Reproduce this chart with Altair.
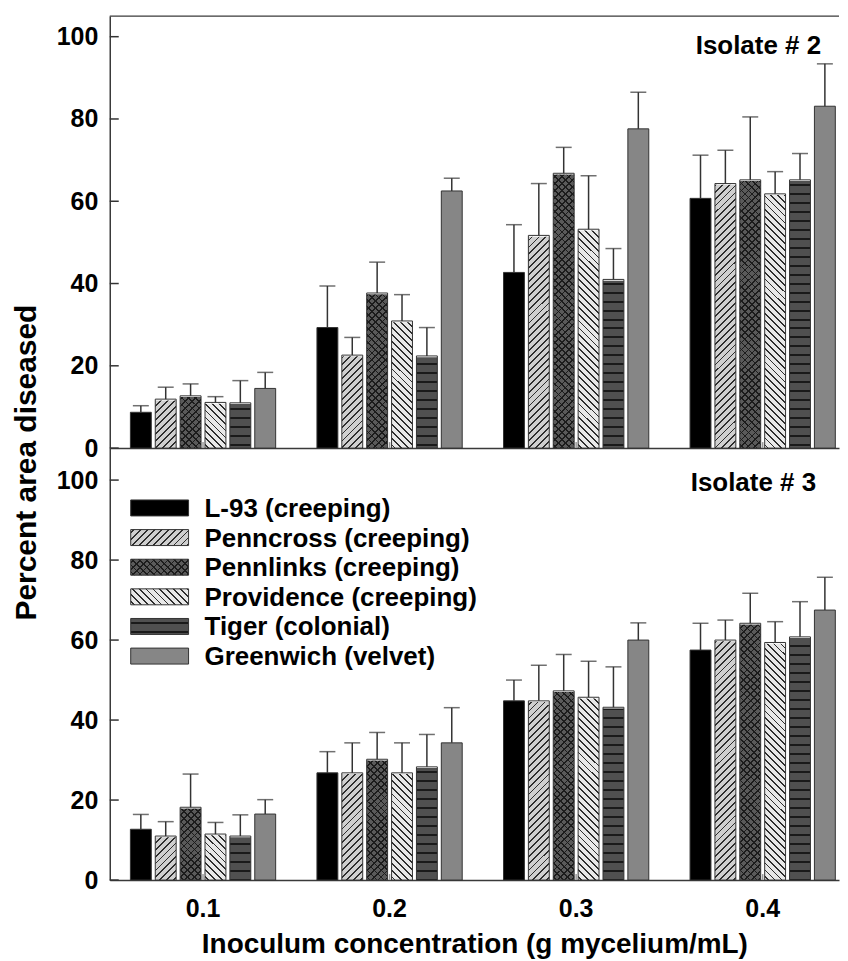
import math
import altair as alt
import pandas as pd

# ---------------- data ----------------
concentrations = ["0.1", "0.2", "0.3", "0.4"]
cultivars = [
    "L-93 (creeping)",
    "Penncross (creeping)",
    "Pennlinks (creeping)",
    "Providence (creeping)",
    "Tiger (colonial)",
    "Greenwich (velvet)",
]

# Isolate # 2 : mean percent area diseased (rows = cultivars, cols = concentrations)
iso2_mean = [
    [8.7, 29.3, 42.7, 60.7],
    [11.9, 22.6, 51.7, 64.3],
    [12.7, 37.7, 66.8, 65.2],
    [11.1, 30.9, 53.2, 61.8],
    [11.0, 22.4, 41.0, 65.2],
    [14.5, 62.5, 77.6, 83.1],
]
iso2_se = [
    [1.6, 10.1, 11.6, 10.5],
    [2.9, 4.3, 12.6, 8.1],
    [2.9, 7.5, 6.3, 15.3],
    [1.4, 6.4, 13.0, 5.4],
    [5.4, 6.9, 7.5, 6.4],
    [3.9, 3.1, 8.9, 10.3],
]

# Isolate # 3
iso3_mean = [
    [12.7, 26.8, 44.8, 57.5],
    [11.0, 26.8, 44.8, 60.0],
    [18.2, 30.2, 47.3, 64.2],
    [11.5, 26.8, 45.7, 59.4],
    [11.0, 28.3, 43.2, 60.8],
    [16.5, 34.3, 60.0, 67.5],
]
iso3_se = [
    [3.7, 5.3, 5.2, 6.7],
    [3.6, 7.5, 8.9, 5.0],
    [8.3, 6.7, 9.1, 7.5],
    [2.9, 7.5, 9.0, 5.2],
    [5.3, 8.1, 10.1, 8.8],
    [3.6, 8.8, 4.3, 8.2],
]

y_ticks = [0, 20, 40, 60, 80, 100]

# ---------------- layout / style ----------------
FONT = "Liberation Sans"
PANEL_W = 731
PANEL_H = 433
TOP_MAX = 105
BOT_MAX = 108
EDGE = "#333333"
FRAME = "#3a3a3a"
BAR_W = 20.9  # approx pixel width of one bar (for hatch geometry)


def table(means, ses):
    rows = []
    for ci, c in enumerate(cultivars):
        for gi, g in enumerate(concentrations):
            rows.append({"conc": g, "cultivar": c, "mean": means[ci][gi], "se": ses[ci][gi]})
    return pd.DataFrame(rows)


def stripes(w, h, nx, ny, pitch, lw, bg, fg):
    """Linear gradient (bbox units) that draws parallel lines of constant pixel pitch."""
    n = math.hypot(nx, ny)
    nx, ny = nx / n, ny / n
    corners = [(0.0, 0.0), (1.0, 0.0), (0.0, 1.0), (1.0, 1.0)]
    d = [nx * w * u + ny * h * v for (u, v) in corners]
    i0 = d.index(min(d))
    D = max(d) - min(d)
    Q = (nx * w) ** 2 + (ny * h) ** 2
    k = D / Q
    x1, y1 = corners[i0]
    x2 = x1 + k * nx * w
    y2 = y1 + k * ny * h
    stops = [{"offset": 0, "color": bg}]
    c = pitch / 2
    while c - lw / 2 < D:
        a = round(max(0.0, (c - lw / 2) / D), 5)
        b = round(min(1.0, (c + lw / 2) / D), 5)
        stops += [
            {"offset": a, "color": bg},
            {"offset": a, "color": fg},
            {"offset": b, "color": fg},
            {"offset": b, "color": bg},
        ]
        c += pitch
    stops.append({"offset": 1, "color": bg})
    return {"gradient": "linear", "x1": round(x1, 5), "y1": round(y1, 5),
            "x2": round(x2, 5), "y2": round(y2, 5), "stops": stops}


CLEAR = "rgba(0,0,0,0)"


def fills(w, h):
    """Fill layers for each hatched cultivar, for a box of w x h pixels."""
    return {
        cultivars[1]: [stripes(w, h, 1, 1, 4.9, 1.3, "#cfcfcf", "#2e2e2e")],
        cultivars[2]: [stripes(w, h, 1, 1, 4.9, 1.2, "#5a5a5a", "#1c1c1c"),
                       stripes(w, h, 1, -1, 4.9, 1.2, CLEAR, "#1c1c1c")],
        cultivars[3]: [stripes(w, h, 1, -1, 4.9, 1.3, "#e8e8e8", "#2e2e2e")],
        cultivars[4]: [stripes(w, h, 0, 1, 9.0, 2.0, "#505050", "#1a1a1a")],
    }


SOLID = {cultivars[0]: "#000000", cultivars[5]: "#868686"}
HATCHED = [cultivars[1], cultivars[2], cultivars[3], cultivars[4]]


def panel(means, ses, ymax, yaxis, xaxis, label, lab_x, lab_y, legend, top_line):
    df = table(means, ses)
    X = alt.X("conc:N", sort=concentrations,
              scale=alt.Scale(domain=concentrations, paddingInner=0.2,
                              paddingOuter=0.0545, align=0.917),
              axis=xaxis)
    XO = alt.XOffset("cultivar:N",
                     scale=alt.Scale(domain=cultivars, paddingInner=0.16, paddingOuter=0.08))
    ys = alt.Scale(domain=[0, ymax], nice=False)

    def Y(field):
        return alt.Y(field, scale=ys, axis=yaxis)

    base = alt.Chart(df).encode(x=X, xOffset=XO)
    hpx = 100 * PANEL_H / ymax
    layers = []
    # hatched fills (drawn to 100, then masked above each bar's value)
    for name, grads in fills(BAR_W, hpx).items():
        for g in grads:
            layers.append(
                base.transform_filter(alt.datum.cultivar == name)
                .transform_calculate(hatch_top="100")
                .mark_bar(fill=g)
                .encode(y=Y("hatch_top:Q"))
            )
    layers.append(
        base.transform_filter(alt.FieldOneOfPredicate(field="cultivar", oneOf=HATCHED))
        .transform_calculate(hatch_top="100")
        .mark_bar(fill="white", stroke="white", strokeWidth=2.5)
        .encode(y=Y("mean:Q"), y2="hatch_top:Q")
    )
    # solid bars
    layers.append(
        base.transform_filter(alt.FieldOneOfPredicate(field="cultivar", oneOf=list(SOLID)))
        .mark_bar(stroke=EDGE, strokeWidth=1)
        .encode(y=Y("mean:Q"),
                fill=alt.Fill("cultivar:N", legend=None,
                              scale=alt.Scale(domain=list(SOLID), range=list(SOLID.values()))))
    )
    # outlines of hatched bars
    layers.append(
        base.transform_filter(alt.FieldOneOfPredicate(field="cultivar", oneOf=HATCHED))
        .mark_bar(fillOpacity=0, stroke=EDGE, strokeWidth=1)
        .encode(y=Y("mean:Q"))
    )
    # error bars
    err = base.transform_calculate(upper="datum.mean + datum.se")
    layers.append(err.mark_rule(color=EDGE, strokeWidth=1.5).encode(y=Y("mean:Q"), y2="upper:Q"))
    layers.append(err.mark_tick(color=EDGE, thickness=1.5, size=16, orient="horizontal")
                  .encode(y=Y("upper:Q")))
    # inward y ticks
    layers.append(
        alt.Chart(pd.DataFrame({"t": y_ticks})).mark_rule(color=EDGE, strokeWidth=1.5)
        .encode(y=Y("t:Q"), x=alt.value(0), x2=alt.value(9))
    )
    # small inward x ticks at group centres
    layers.append(
        alt.Chart(pd.DataFrame({"conc": concentrations})).mark_rule(color="#9a9a9a", strokeWidth=1.5)
        .encode(x=X, y=alt.value(PANEL_H), y2=alt.value(PANEL_H - 6))
    )
    if top_line:
        layers.append(
            alt.Chart(pd.DataFrame({"t": [0]})).mark_rule(color=FRAME, strokeWidth=1.5)
            .encode(x=alt.value(0), x2=alt.value(PANEL_W), y=alt.value(0))
        )
    # isolate label
    layers.append(
        alt.Chart(pd.DataFrame({"label": [label]}))
        .mark_text(font=FONT, fontWeight="bold", fontSize=26, align="right", baseline="middle", color="black")
        .encode(text="label:N", x=alt.value(lab_x), y=alt.value(lab_y))
    )
    if legend:
        sw, sh = 58, 16
        lf = fills(sw, sh)
        for i, name in enumerate(cultivars):
            y0 = 52 + 29.7 * i
            one = alt.Chart(pd.DataFrame({"cultivar": [name]}))
            pos = dict(x=alt.value(21), x2=alt.value(21 + sw), y=alt.value(y0), y2=alt.value(y0 + sh))
            if name in SOLID:
                layers.append(one.mark_rect(fill=SOLID[name], stroke=EDGE, strokeWidth=1).encode(**pos))
            else:
                grads = lf[name]
                for j, g in enumerate(grads):
                    if j == len(grads) - 1:
                        layers.append(one.mark_rect(fill=g, stroke=EDGE, strokeWidth=1).encode(**pos))
                    else:
                        layers.append(one.mark_rect(fill=g).encode(**pos))
            layers.append(
                one.mark_text(font=FONT, fontWeight="bold", fontSize=26, align="left",
                              baseline="middle", color="black")
                .encode(text="cultivar:N", x=alt.value(95), y=alt.value(y0 + sh / 2 + 1))
            )
    return alt.layer(*layers).properties(width=PANEL_W, height=PANEL_H)


y_axis_top = alt.Axis(values=y_ticks, title="Percent area diseased", titleY=447,
                      titleFontSize=30, titlePadding=15, labelPadding=12)
y_axis_bot = alt.Axis(values=y_ticks, title=None, labelPadding=12)
x_axis_top = alt.Axis(labels=False, title=None)
x_axis_bot = alt.Axis(title="Inoculum concentration (g mycelium/mL)", labelAngle=0,
                      labelPadding=17, titlePadding=9)

top = panel(iso2_mean, iso2_se, TOP_MAX, y_axis_top, x_axis_top, "Isolate # 2", 713, 30, False, True)
bottom = panel(iso3_mean, iso3_se, BOT_MAX, y_axis_bot, x_axis_bot, "Isolate # 3", 708, 35, True, False)

chart = (
    alt.vconcat(top, bottom, spacing=0, bounds="flush")
    .properties(padding={"left": 3, "top": 6, "right": 0, "bottom": 0}, background="white")
    .configure_view(strokeWidth=0)
    .configure_axis(
        labelFont=FONT, labelFontWeight="bold", labelFontSize=25, labelColor="black",
        titleFont=FONT, titleFontWeight="bold", titleFontSize=28, titleColor="black",
        grid=False, ticks=False, tickSize=0, domain=True, domainColor=FRAME, domainWidth=1.5,
        labelFlush=False,
    )
)

chart.save("out.html", embed_options={"renderer": "svg", "actions": False})
